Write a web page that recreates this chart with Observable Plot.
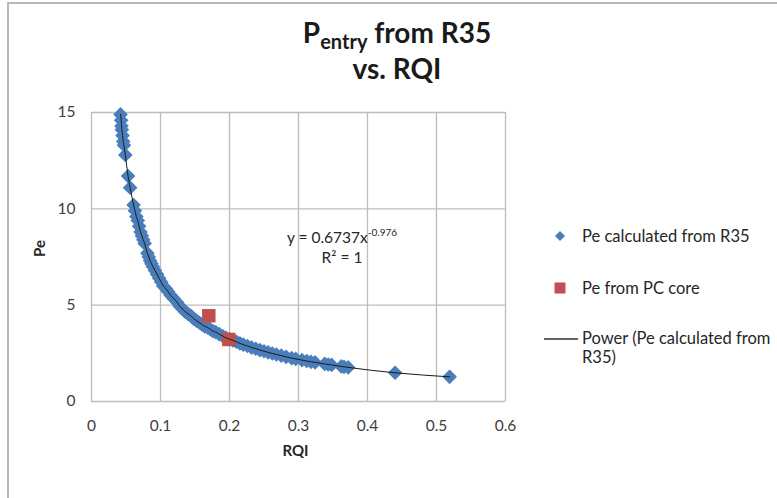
<!DOCTYPE html>
<html>
<head>
<meta charset="utf-8">
<script src="https://cdn.jsdelivr.net/npm/d3@7"></script>
<script src="https://cdn.jsdelivr.net/npm/@observablehq/plot@0.6"></script>
<style>
  html, body { margin: 0; padding: 0; background: #fff; }
  #wrap { position: relative; width: 777px; height: 498px; overflow: hidden; font-family: Lato, "Open Sans", sans-serif; color: #262626; }
  #wrap svg { position: absolute; left: 0; top: 0; }
  .abs { position: absolute; white-space: nowrap; }
  #border { position: absolute; left: 7px; top: 2px; width: 800px; height: 520px; border-top: 2px solid #b8b8b8; border-left: 2px solid #b8b8b8; }
  .ttl { font-weight: bold; font-size: 28px; line-height: 1.2; color: #1a1a1a; text-align: center; width: 300px; left: 247px; }
  .leg { font-size: 16.5px; line-height: 20px; left: 582px; color: #262626; }
  .eq { font-size: 15.5px; line-height: 20px; text-align: center; width: 160px; left: 262px; color: #262626; }
</style>
</head>
<body>
<div id="wrap">
  <div id="border"></div>
</div>
<script>
// Blue diamonds: Pe calculated from R35
const rqi = [0.042, 0.043, 0.0435, 0.044, 0.045, 0.046, 0.047, 0.049, 0.053, 0.056,
  0.061, 0.063, 0.065, 0.067, 0.069, 0.071, 0.073, 0.075, 0.077, 0.081,
  0.083, 0.085, 0.087, 0.089, 0.092, 0.095, 0.098, 0.101, 0.104, 0.108,
  0.111, 0.115, 0.119, 0.124, 0.128, 0.132, 0.136, 0.140, 0.144, 0.148,
  0.152, 0.156, 0.160, 0.164, 0.168, 0.172, 0.176, 0.180, 0.185, 0.190,
  0.195, 0.200, 0.205, 0.210, 0.215, 0.220, 0.226, 0.232, 0.238, 0.244,
  0.250, 0.256, 0.262, 0.268, 0.275, 0.282, 0.290, 0.296, 0.305, 0.312,
  0.318, 0.324, 0.338, 0.343, 0.348, 0.362, 0.366, 0.372, 0.440, 0.519];
const pe = [14.9, 14.6, 14.3, 14.1, 13.8, 13.5, 13.3, 12.8, 11.7, 11.1,
  10.2, 9.9, 9.6, 9.4, 9.1, 8.8, 8.6, 8.4, 8.2, 7.7,
  7.5, 7.3, 7.15, 7.0, 6.8, 6.6, 6.4, 6.2, 6.0, 5.85,
  5.7, 5.5, 5.35, 5.15, 4.95, 4.8, 4.65, 4.55, 4.45, 4.3,
  4.2, 4.1, 4.0, 3.9, 3.85, 3.75, 3.65, 3.6, 3.5, 3.4,
  3.3, 3.24, 3.17, 3.1, 3.02, 2.95, 2.88, 2.8, 2.74, 2.67,
  2.61, 2.55, 2.49, 2.44, 2.38, 2.32, 2.25, 2.21, 2.15, 2.1,
  2.06, 2.03, 1.95, 1.92, 1.9, 1.82, 1.8, 1.77, 1.49, 1.28];
// Red squares: Pe from PC core
const coreRqi = [0.17, 0.199];
const corePe = [4.45, 3.22];
// Axis ticks
const xTicks = [0, 0.1, 0.2, 0.3, 0.4, 0.5, 0.6];
const yTicks = [0, 5, 10, 15];
// Texts
const titleMain = "P";
const titleSub = "entry";
const titleRest = " from R35";
const titleLine2 = "vs. RQI";
const xLabel = "RQI";
const yLabel = "Pe";
const eqLine1 = "y = 0.6737x";
const eqExp = "-0.976";
const eqLine2 = "R² = 1";
const legendLabels = ["Pe calculated from R35", "Pe from PC core", "Power (Pe calculated from", "R35)"];

const calc = rqi.map((x, i) => ({x, y: pe[i]}));
const core = coreRqi.map((x, i) => ({x, y: corePe[i]}));
const trend = calc.slice().sort((a, b) => a.x - b.x);

const gridColor = "#bdbdbd";
const chart = Plot.plot({
  width: 777,
  height: 498,
  marginLeft: 91,
  marginRight: 272,
  marginTop: 112,
  marginBottom: 97,
  style: {fontFamily: "Lato, 'Open Sans', sans-serif", fontSize: "15.5px", color: "#404040", background: "transparent", overflow: "visible"},
  x: {domain: [0, 0.6], ticks: 6, tickFormat: d => String(+d.toFixed(1)), tickSize: 0, tickPadding: 18, label: null},
  y: {domain: [0, 15], ticks: 3, tickFormat: d => String(d), tickSize: 0, tickPadding: 16, label: null},
  marks: [
    Plot.ruleX(xTicks, {stroke: gridColor, strokeWidth: 1.3}),
    Plot.ruleY(yTicks, {stroke: gridColor, strokeWidth: 1.3}),
    Plot.dot(calc, {x: "x", y: "y", symbol: "diamond2", r: 6.6, fill: "#4a7ebb", stroke: null}),
    Plot.dot(core, {x: "x", y: "y", symbol: "square", r: 7.6, fill: "#c0504d", stroke: null}),
    Plot.line(trend, {x: "x", y: "y", stroke: "#1a1a1a", strokeWidth: 1, curve: "monotone-x"}),
    Plot.text([xLabel], {frameAnchor: "bottom", dy: 54, dx: -3, fontWeight: "bold", fontSize: 15, fill: "#262626"}),
    Plot.text([yLabel], {frameAnchor: "left", dx: -51, rotate: -90, fontWeight: "bold", fontSize: 15, fill: "#262626"})
  ]
});
const wrap = document.getElementById("wrap");
wrap.appendChild(chart);

function addDiv(cls, top, html, extraStyle) {
  const d = document.createElement("div");
  d.className = "abs " + cls;
  d.style.top = top + "px";
  if (extraStyle) Object.assign(d.style, extraStyle);
  d.innerHTML = html;
  wrap.appendChild(d);
  return d;
}
// Title
addDiv("ttl", 16, titleMain + '<span style="font-size:20px;position:relative;top:6px">' + titleSub + '</span>' + titleRest);
addDiv("ttl", 52, titleLine2);
// Equation
addDiv("eq", 227, eqLine1 + '<span style="font-size:10px;position:relative;top:-7px">' + eqExp + '</span>');
addDiv("eq", 247, eqLine2);
// Legend texts
addDiv("leg", 236 - 10.5, legendLabels[0]);
addDiv("leg", 288 - 10.5, legendLabels[1]);
addDiv("leg", 338 - 10.5, legendLabels[2]);
addDiv("leg", 357 - 10.5, legendLabels[3]);
// Legend swatches
const sw = document.createElementNS("http://www.w3.org/2000/svg", "svg");
sw.setAttribute("width", 777); sw.setAttribute("height", 498);
sw.style.position = "absolute"; sw.style.left = 0; sw.style.top = 0; sw.style.pointerEvents = "none";
sw.innerHTML =
  '<path d="M560,231 L565,236 L560,241 L555,236 Z" fill="#4a7ebb"/>' +
  '<rect x="554.5" y="282.5" width="11" height="11" fill="#c0504d"/>' +
  '<line x1="544" x2="578" y1="339" y2="339" stroke="#333" stroke-width="1.3"/>';
wrap.appendChild(sw);
</script>
</body>
</html>
